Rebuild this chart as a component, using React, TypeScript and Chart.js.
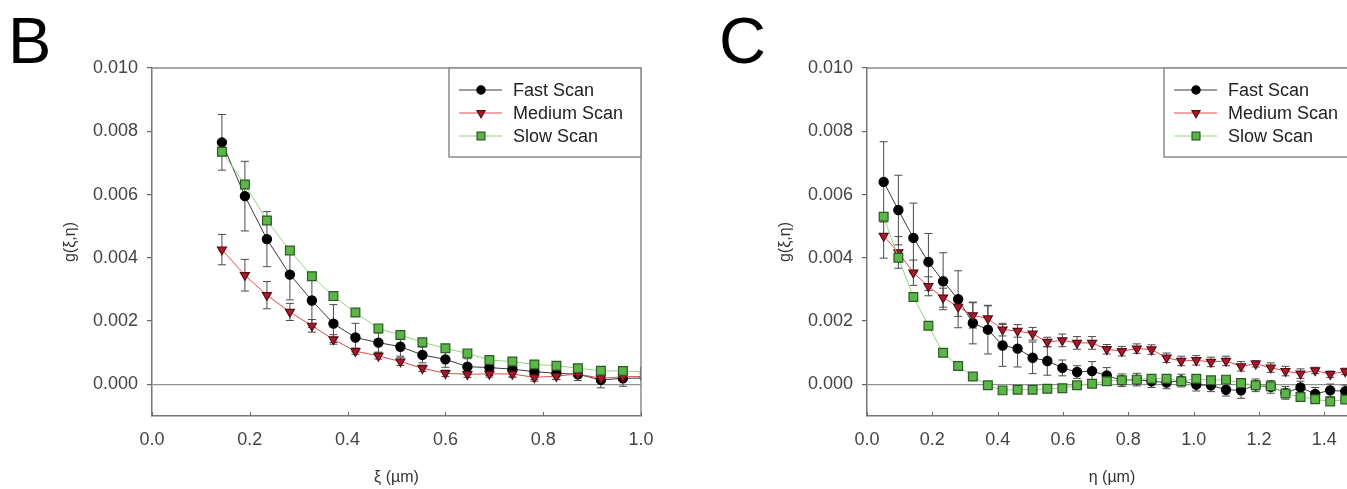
import React, { useEffect, useRef } from "react";
import { Chart, registerables } from "chart.js";

Chart.register(...registerables);

const FONT = "'Liberation Sans', Arial, Helvetica, sans-serif";

// ---------- Panel B : g(xi, eta) versus xi ----------
const xiValues = [0.143, 0.190, 0.235, 0.282, 0.327, 0.371, 0.416, 0.463, 0.508, 0.553, 0.600, 0.645, 0.690, 0.737, 0.782, 0.827, 0.871, 0.918, 0.963, 1.008];
const fastB = [0.00765, 0.00595, 0.00459, 0.00347, 0.00265, 0.00192, 0.00148, 0.00132, 0.00119, 0.00093, 0.00079, 0.00056, 0.00053, 0.00048, 0.00040, 0.00035, 0.00032, 0.00014, 0.00019, 0.00020];
const fastErrB = [0.00088, 0.00110, 0.00087, 0.00080, 0.00085, 0.00060, 0.00045, 0.00030, 0.00030, 0.00025, 0.00025, 0.00025, 0.00025, 0.00025, 0.00025, 0.00020, 0.00020, 0.00025, 0.00025, 0.00020];
const mediumB = [0.00426, 0.00345, 0.00282, 0.00229, 0.00185, 0.00142, 0.00105, 0.00090, 0.00072, 0.00051, 0.00035, 0.00032, 0.00033, 0.00033, 0.00022, 0.00026, 0.00033, 0.00019, 0.00024, 0.00025];
const mediumErrB = [0.00048, 0.00050, 0.00043, 0.00027, 0.00020, 0.00015, 0.00010, 0.00010, 0.00012, 0.00010, 0.00010, 0.00010, 0.00010, 0.00010, 0.00012, 0.00010, 0.00010, 0.00012, 0.00012, 0.00010];
const slowB = [0.00735, 0.00632, 0.00518, 0.00423, 0.00342, 0.00279, 0.00227, 0.00177, 0.00156, 0.00133, 0.00114, 0.00098, 0.00077, 0.00072, 0.00063, 0.00059, 0.00051, 0.00043, 0.00042, 0.00040];
const slowErrB = [0.00010, 0.00010, 0.00010, 0.00008, 0.00008, 0.00008, 0.00008, 0.00008, 0.00008, 0.00008, 0.00008, 0.00008, 0.00008, 0.00008, 0.00008, 0.00008, 0.00008, 0.00008, 0.00008, 0.00008];
const xTicksB = [0, 0.2, 0.4, 0.6, 0.8, 1.0];

// ---------- Panel C : g(xi, eta) versus eta ----------
const etaValues = [0.051, 0.096, 0.142, 0.188, 0.233, 0.279, 0.324, 0.370, 0.415, 0.461, 0.507, 0.552, 0.598, 0.643, 0.689, 0.734, 0.780, 0.826, 0.871, 0.917, 0.962, 1.008, 1.053, 1.099, 1.145, 1.190, 1.236, 1.281, 1.327, 1.372, 1.418, 1.464];
const fastC = [0.00640, 0.00551, 0.00463, 0.00387, 0.00326, 0.00269, 0.00194, 0.00173, 0.00123, 0.00113, 0.00084, 0.00074, 0.00052, 0.00039, 0.00042, 0.00028, 0.00013, 0.00015, 0.00010, 0.00006, 0.00012, -0.00001, -0.00003, -0.00017, -0.00019, -0.00003, -0.00008, -0.00027, -0.00010, -0.00030, -0.00019, -0.00022];
const fastErrC = [0.00127, 0.00110, 0.00110, 0.00090, 0.00090, 0.00090, 0.00066, 0.00077, 0.00066, 0.00058, 0.00050, 0.00045, 0.00025, 0.00020, 0.00030, 0.00025, 0.00020, 0.00020, 0.00020, 0.00020, 0.00020, 0.00020, 0.00020, 0.00020, 0.00025, 0.00020, 0.00020, 0.00020, 0.00020, 0.00020, 0.00020, 0.00020];
const mediumC = [0.00469, 0.00417, 0.00353, 0.00310, 0.00274, 0.00245, 0.00218, 0.00208, 0.00173, 0.00169, 0.00160, 0.00134, 0.00139, 0.00131, 0.00131, 0.00111, 0.00105, 0.00113, 0.00110, 0.00084, 0.00074, 0.00076, 0.00071, 0.00074, 0.00057, 0.00065, 0.00053, 0.00042, 0.00034, 0.00044, 0.00032, 0.00041];
const mediumErrC = [0.00070, 0.00050, 0.00040, 0.00030, 0.00030, 0.00030, 0.00040, 0.00040, 0.00020, 0.00020, 0.00020, 0.00015, 0.00020, 0.00020, 0.00020, 0.00015, 0.00015, 0.00015, 0.00015, 0.00015, 0.00015, 0.00015, 0.00015, 0.00015, 0.00015, 0.00010, 0.00015, 0.00015, 0.00015, 0.00010, 0.00010, 0.00010];
const slowC = [0.00530, 0.00400, 0.00276, 0.00185, 0.00100, 0.00058, 0.00025, -0.00003, -0.00019, -0.00017, -0.00017, -0.00014, -0.00012, -0.00003, 0.00002, 0.00010, 0.00013, 0.00015, 0.00018, 0.00018, 0.00010, 0.00018, 0.00013, 0.00015, 0.00004, -0.00003, -0.00006, -0.00029, -0.00040, -0.00047, -0.00054, -0.00048];
const slowErrC = [0.00012, 0.00010, 0.00010, 0.00008, 0.00008, 0.00008, 0.00008, 0.00008, 0.00008, 0.00008, 0.00008, 0.00008, 0.00008, 0.00008, 0.00008, 0.00008, 0.00008, 0.00008, 0.00008, 0.00008, 0.00008, 0.00008, 0.00008, 0.00008, 0.00010, 0.00010, 0.00012, 0.00012, 0.00012, 0.00010, 0.00010, 0.00010];
const xTicksC = [0, 0.2, 0.4, 0.6, 0.8, 1.0, 1.2, 1.4];

// ---------- shared ----------
const seriesLabels = ["Fast Scan", "Medium Scan", "Slow Scan"];
const yTicks = [0, 0.002, 0.004, 0.006, 0.008, 0.010];
const yTitle = "g(ξ,η)";

const seriesStyles = [
  { line: "#3a3a3a", fill: "#000000", stroke: "#000000", shape: "circle", radius: 4.6, rotation: 0 },
  { line: "#e5484c", fill: "#a8192b", stroke: "#5a0c14", shape: "triangle", radius: 5.2, rotation: 180 },
  { line: "#92d47c", fill: "#5cb548", stroke: "#2b5a22", shape: "rect", radius: 6.2, rotation: 0 },
];

function drawMarker(ctx: CanvasRenderingContext2D, shape: string, x: number, y: number, r: number, fill: string, stroke: string) {
  ctx.save();
  ctx.fillStyle = fill;
  ctx.strokeStyle = stroke;
  ctx.lineWidth = 1.2;
  ctx.beginPath();
  if (shape === "circle") {
    ctx.arc(x, y, r, 0, Math.PI * 2);
  } else if (shape === "triangle") {
    const h = r * 1.5;
    ctx.moveTo(x, y + r);
    ctx.lineTo(x - r * 0.866, y + r - h);
    ctx.lineTo(x + r * 0.866, y + r - h);
    ctx.closePath();
  } else {
    const s = r * Math.SQRT1_2;
    ctx.rect(x - s, y - s, 2 * s, 2 * s);
  }
  ctx.fill();
  ctx.stroke();
  ctx.restore();
}

const errorBarPlugin = {
  id: "errorBars",
  beforeDatasetsDraw(chart: any) {
    const { ctx, chartArea } = chart;
    const xs = chart.scales.x;
    const ys = chart.scales.y;
    ctx.save();
    ctx.beginPath();
    ctx.rect(chartArea.left - 6, chartArea.top - 6, chartArea.right - chartArea.left + 6, chartArea.bottom - chartArea.top + 12);
    ctx.clip();
    ctx.strokeStyle = "#4a4a4a";
    ctx.lineWidth = 1;
    chart.data.datasets.forEach((ds: any) => {
      ds.data.forEach((p: any, i: number) => {
        const e = ds.errors[i];
        if (!e) return;
        const px = xs.getPixelForValue(p.x);
        const top = ys.getPixelForValue(p.y + e);
        const bot = ys.getPixelForValue(p.y - e);
        ctx.beginPath();
        ctx.moveTo(px, top);
        ctx.lineTo(px, bot);
        ctx.moveTo(px - 4, top);
        ctx.lineTo(px + 4, top);
        ctx.moveTo(px - 4, bot);
        ctx.lineTo(px + 4, bot);
        ctx.stroke();
      });
    });
    ctx.restore();
  },
};

const framePlugin = {
  id: "frame",
  afterDraw(chart: any, _args: any, opts: any) {
    const { ctx, chartArea } = chart;
    const xs = chart.scales.x;
    ctx.save();
    // top and right frame lines
    ctx.strokeStyle = "#8a8a8a";
    ctx.lineWidth = 1.5;
    ctx.beginPath();
    ctx.moveTo(chartArea.left, chartArea.top);
    ctx.lineTo(chartArea.right, chartArea.top);
    ctx.lineTo(chartArea.right, chartArea.bottom);
    ctx.stroke();
    // inward x ticks
    ctx.strokeStyle = "#6a6a6a";
    ctx.lineWidth = 1;
    xs.ticks.forEach((t: any) => {
      const px = Math.round(xs.getPixelForValue(t.value)) + 0.5;
      ctx.beginPath();
      ctx.moveTo(px, chartArea.bottom);
      ctx.lineTo(px, chartArea.bottom - 4);
      ctx.stroke();
    });
    // panel letter
    ctx.fillStyle = "#000";
    ctx.font = `65px ${FONT}`;
    ctx.textBaseline = "alphabetic";
    ctx.textAlign = "left";
    ctx.fillText(opts.letter, opts.letterX, 63);
    // legend box
    const w = opts.legendWidth;
    const lx = chartArea.right - w;
    const ly = chartArea.top;
    const lh = 89;
    ctx.fillStyle = "#ffffff";
    ctx.fillRect(lx, ly, w, lh);
    ctx.strokeStyle = "#8a8a8a";
    ctx.lineWidth = 1.5;
    ctx.strokeRect(lx, ly, w, lh);
    ctx.font = `18px ${FONT}`;
    ctx.textBaseline = "middle";
    chart.data.datasets.forEach((ds: any, i: number) => {
      const st = seriesStyles[i];
      const ry = ly + 22 + i * 23;
      ctx.strokeStyle = st.line;
      ctx.lineWidth = 1;
      ctx.beginPath();
      ctx.moveTo(lx + 10, ry);
      ctx.lineTo(lx + 53, ry);
      ctx.stroke();
      drawMarker(ctx, st.shape, lx + 32, ry, st.shape === "rect" ? 5.6 : st.radius * 0.9, st.fill, st.stroke);
      ctx.fillStyle = "#222";
      ctx.fillText(ds.label, lx + 64, ry + 1);
    });
    ctx.restore();
  },
};

type Panel = {
  letter: string;
  letterX: number;
  left: number;
  canvasW: number;
  rightPad: number;
  xMax: number;
  xTicks: number[];
  xs: number[];
  series: number[][];
  errors: number[][];
  xTitle: string;
  legendWidth: number;
};

const panels: Panel[] = [
  { letter: "B", letterX: 8, left: 0, canvasW: 660, rightPad: 19, xMax: 1.0, xTicks: xTicksB, xs: xiValues, series: [fastB, mediumB, slowB], errors: [fastErrB, mediumErrB, slowErrB], xTitle: "ξ (µm)", legendWidth: 192 },
  { letter: "C", letterX: 4, left: 715, canvasW: 660, rightPad: 18, xMax: 1.5, xTicks: xTicksC, xs: etaValues, series: [fastC, mediumC, slowC], errors: [fastErrC, mediumErrC, slowErrC], xTitle: "η (µm)", legendWidth: 193 },
];

const CANVAS_H = 489;

function PanelChart({ panel }: { panel: Panel }) {
  const ref = useRef<HTMLCanvasElement | null>(null);
  useEffect(() => {
    if (!ref.current) return;
    const datasets = panel.series.map((ys, si) => {
      const st = seriesStyles[si];
      return {
        label: seriesLabels[si],
        data: panel.xs.map((x, i) => ({ x, y: ys[i] })),
        errors: panel.errors[si],
        borderColor: st.line,
        borderWidth: 1,
        pointStyle: st.shape,
        pointRadius: st.radius,
        pointRotation: st.rotation,
        pointBackgroundColor: st.fill,
        pointBorderColor: st.stroke,
        pointBorderWidth: 1.2,
        tension: 0,
        fill: false,
        order: 2 - si,
        clip: { left: 8, top: 8, right: 0, bottom: 8 },
      };
    });
    const chart = new Chart(ref.current, {
      type: "line",
      data: { datasets } as any,
      plugins: [errorBarPlugin, framePlugin],
      options: {
        responsive: false,
        animation: false,
        events: [],
        layout: { padding: { left: 60, top: 68, right: panel.rightPad, bottom: 1 } },
        plugins: {
          legend: { display: false },
          tooltip: { enabled: false },
          frame: { letter: panel.letter, letterX: panel.letterX, legendWidth: panel.legendWidth },
        } as any,
        scales: {
          x: {
            type: "linear",
            min: 0,
            max: panel.xMax,
            afterBuildTicks: (s: any) => {
              s.ticks = panel.xTicks.map((v) => ({ value: v }));
            },
            afterFit: (s: any) => {
              s.height = 72;
              s.paddingLeft = 0;
              s.paddingRight = 0;
            },
            ticks: {
              autoSkip: false,
              maxRotation: 0,
              padding: 13,
              color: "#444",
              font: { family: FONT, size: 18 },
              callback: (v: any) => Number(v).toFixed(1),
            },
            grid: { display: true, drawOnChartArea: false, drawTicks: false },
            border: { display: true, color: "#777", width: 1.5 },
            title: {
              display: true,
              text: panel.xTitle,
              color: "#333",
              font: { family: FONT, size: 16 },
              padding: { top: 0, bottom: 1 },
            },
          },
          y: {
            type: "linear",
            min: -0.001,
            max: 0.01,
            afterBuildTicks: (s: any) => {
              s.ticks = yTicks.map((v) => ({ value: v }));
            },
            afterFit: (s: any) => {
              s.width = 92;
              s.paddingTop = 0;
              s.paddingBottom = 0;
            },
            ticks: {
              autoSkip: false,
              padding: 9,
              color: "#444",
              font: { family: FONT, size: 18 },
              callback: (v: any) => Number(v).toFixed(3),
            },
            grid: {
              display: true,
              drawOnChartArea: true,
              drawTicks: true,
              tickLength: 5,
              tickColor: "#666",
              lineWidth: 1.2,
              color: (c: any) => (c.tick && Math.abs(c.tick.value) < 1e-9 ? "#909090" : "rgba(0,0,0,0)"),
            },
            border: { display: true, color: "#777", width: 1.5 },
            title: {
              display: true,
              text: yTitle,
              color: "#333",
              font: { family: FONT, size: 16 },
              padding: { top: 1, bottom: 0 },
            },
          },
        },
      } as any,
    });
    return () => chart.destroy();
  }, [panel]);
  return (
    <canvas
      ref={ref}
      width={panel.canvasW}
      height={CANVAS_H}
      style={{ position: "absolute", left: panel.left, top: 0, width: panel.canvasW, height: CANVAS_H }}
    />
  );
}

export default function App() {
  return (
    <div style={{ position: "absolute", left: 0, top: 0, width: 1347, height: 489, overflow: "hidden", background: "#fff" }}>
      {panels.map((p) => (
        <PanelChart key={p.letter} panel={p} />
      ))}
    </div>
  );
}
